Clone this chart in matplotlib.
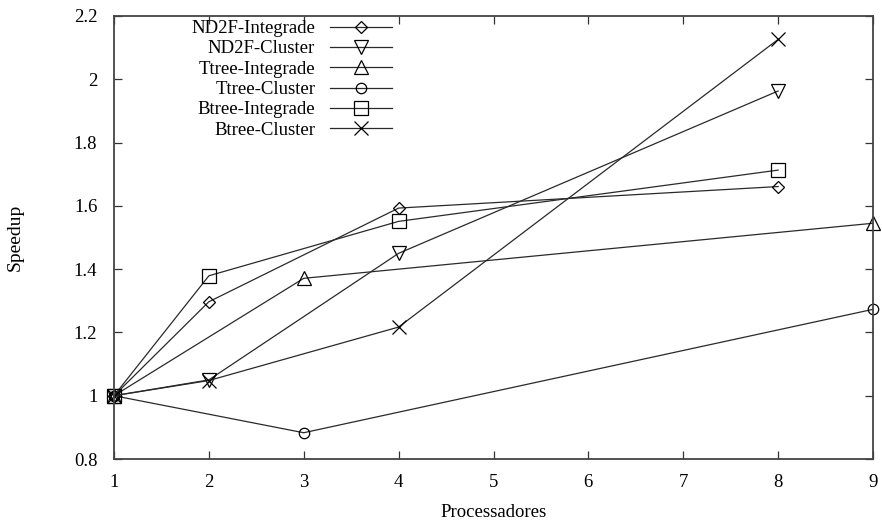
import matplotlib
matplotlib.use("Agg")
import matplotlib.pyplot as plt

# speedup per number of processors
nd2f_integ_x = [1, 2, 4, 8]
nd2f_integ_y = [1.0, 1.297, 1.593, 1.661]
nd2f_clust_x = [1, 2, 4, 8]
nd2f_clust_y = [1.0, 1.05, 1.45, 1.963]
ttree_integ_x = [1, 3, 9]
ttree_integ_y = [1.0, 1.371, 1.545]
ttree_clust_x = [1, 3, 9]
ttree_clust_y = [1.0, 0.883, 1.273]
btree_integ_x = [1, 2, 4, 8]
btree_integ_y = [1.0, 1.379, 1.551, 1.713]
btree_clust_x = [1, 2, 4, 8]
btree_clust_y = [1.0, 1.048, 1.217, 2.126]

labels = ["ND2F-Integrade", "ND2F-Cluster", "Ttree-Integrade",
          "Ttree-Cluster", "Btree-Integrade", "Btree-Cluster"]
x_ticks = [1, 2, 3, 4, 5, 6, 7, 8, 9]
y_ticks = [0.8, 1.0, 1.2, 1.4, 1.6, 1.8, 2.0, 2.2]
y_tick_labels = ["0.8", "1", "1.2", "1.4", "1.6", "1.8", "2", "2.2"]

plt.rcParams["font.family"] = "Liberation Serif"
plt.rcParams["font.size"] = 13.5

W, H = 882, 524
fig = plt.figure(figsize=(W / 100, H / 100), dpi=100)
ax = fig.add_axes([114 / W, (H - 459) / H, (873 - 114) / W, (459 - 16) / H])

series = [
    (nd2f_integ_x, nd2f_integ_y, "D", 6.5),
    (nd2f_clust_x, nd2f_clust_y, "v", 10),
    (ttree_integ_x, ttree_integ_y, "^", 10),
    (ttree_clust_x, ttree_clust_y, "o", 7.5),
    (btree_integ_x, btree_integ_y, "s", 9.5),
    (btree_clust_x, btree_clust_y, "x", 10),
]
for (xs, ys, mk, ms), lab in zip(series, labels):
    ax.plot(xs, ys, color="#2a2a2a", linewidth=0.9, marker=mk, markersize=ms,
            markerfacecolor="none", markeredgecolor="black",
            markeredgewidth=0.9, label=lab, clip_on=False)

ax.set_xlim(1, 9)
ax.set_ylim(0.8, 2.2)
ax.set_xticks(x_ticks)
ax.set_yticks(y_ticks)
ax.set_yticklabels(y_tick_labels)
ax.tick_params(direction="in", length=6, width=0.9, top=True, right=True,
               color="#333333", pad=11)
ax.tick_params(axis="y", pad=12)
for sp in ax.spines.values():
    sp.set_color("#444444")
    sp.set_linewidth(1.3)

ax.set_xlabel("Processadores", labelpad=9)
ax.set_ylabel("Speedup", fontsize=14, labelpad=36)

ax.legend(loc="upper right", bbox_to_anchor=(392 / W, (H - 20) / H),
          bbox_transform=fig.transFigure, frameon=False, markerfirst=False,
          handlelength=3.3, handletextpad=0.8, labelspacing=0.17,
          borderpad=0, borderaxespad=0)

fig.savefig("out.png", dpi=100)
